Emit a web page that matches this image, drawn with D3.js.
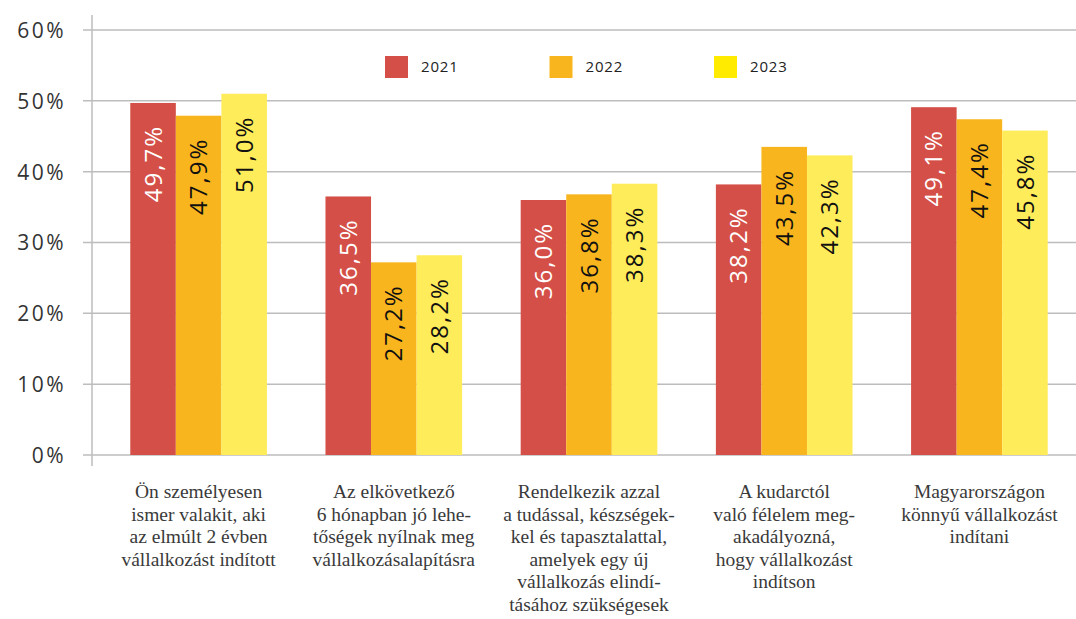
<!DOCTYPE html>
<meta charset="utf-8">
<style>
body { margin: 0; background: #fff; }
.grid line { stroke: #bdbdbd; stroke-width: 1.5px; }
.yaxis text { font-family: "Open Sans", sans-serif; font-size: 21px; fill: #333; letter-spacing: 2.5px; }
.val { font-family: "Open Sans", sans-serif; font-size: 24px; letter-spacing: 2px; }
.cat { font-family: "Liberation Serif", serif; font-size: 19.5px; fill: #3a3a3a; }
.legend text { font-family: "Open Sans", sans-serif; font-size: 15px; fill: #222; letter-spacing: 0.8px; }
</style>
<svg width="1076" height="619"></svg>
<script src="https://d3js.org/d3.v7.min.js"></script>
<script>

  var categories = [
    ["Ön személyesen", "ismer valakit, aki", "az elmúlt 2 évben", "vállalkozást indított"],
    ["Az elkövetkező", "6 hónapban jó lehe-", "tőségek nyílnak meg", "vállalkozásalapításra"],
    ["Rendelkezik azzal", "a tudással, készségek-", "kel és tapasztalattal,", "amelyek egy új", "vállalkozás elindí-", "tásához szükségesek"],
    ["A kudarctól", "való félelem meg-", "akadályozná,", "hogy vállalkozást", "indítson"],
    ["Magyarországon", "könnyű vállalkozást", "indítani"]
  ];
  var years = ["2021", "2022", "2023"];
  var values2021 = [49.7, 36.5, 36.0, 38.2, 49.1];
  var values2022 = [47.9, 27.2, 36.8, 43.5, 47.4];
  var values2023 = [51.0, 28.2, 38.3, 42.3, 45.8];
  var yTicks = [0, 10, 20, 30, 40, 50, 60];

  var series = [values2021, values2022, values2023];
  var barColors = ["#d44f47", "#f9b51e", "#ffec5a"];
  var legendColors = ["#d44f47", "#f9b51e", "#ffeb00"];
  var textColors = ["#fff", "#111", "#111"];

  var svg = d3.select("svg");

  var x = d3.scaleBand()
      .domain(d3.range(categories.length))
      .range([101, 1077])
      .paddingInner(0.3)
      .paddingOuter(0.15);
  var xi = d3.scaleBand()
      .domain(d3.range(years.length))
      .range([0, x.bandwidth()]);
  var y = d3.scaleLinear().domain([0, 60]).range([455, 30]);

  // gridlines
  svg.append("g")
      .attr("class", "grid")
      .selectAll("line")
      .data(yTicks)
      .enter().append("line")
        .attr("x1", 83).attr("x2", 1076)
        .attr("y1", function(d) { return y(d); })
        .attr("y2", function(d) { return y(d); });

  svg.append("line")
      .attr("x1", 92).attr("x2", 92)
      .attr("y1", 15).attr("y2", 466)
      .attr("stroke", "#bdbdbd").attr("stroke-width", 1.5);

  var yAxis = svg.append("g")
      .attr("class", "yaxis")
      .attr("transform", "translate(66,0)")
      .call(d3.axisLeft(y).tickValues(yTicks).tickSize(0).tickPadding(0)
        .tickFormat(function(d) { return d + "%"; }));
  yAxis.select(".domain").remove();
  yAxis.selectAll("text").attr("dy", "0.35em");

  // bars
  var fmt = d3.format(".1f");
  series.forEach(function(vals, s) {
    var g = svg.append("g");
    g.selectAll("rect")
      .data(vals)
      .enter().append("rect")
        .attr("x", function(d, i) { return x(i) + xi(s); })
        .attr("width", xi.bandwidth())
        .attr("y", function(d) { return y(d); })
        .attr("height", function(d) { return y(0) - y(d); })
        .attr("fill", barColors[s]);
    g.selectAll("text")
      .data(vals)
      .enter().append("text")
        .attr("class", "val")
        .attr("fill", textColors[s])
        .attr("text-anchor", "end")
        .attr("dy", "0.36em")
        .attr("transform", function(d, i) {
          var cx = x(i) + xi(s) + xi.bandwidth() / 2;
          return "translate(" + cx + "," + (y(d) + 22) + ") rotate(-90)";
        })
        .text(function(d) { return fmt(d).replace(".", ",") + "%"; });
  });

  // category labels
  svg.append("g")
      .selectAll("text")
      .data(categories)
      .enter().append("text")
        .attr("class", "cat")
        .attr("text-anchor", "middle")
        .attr("x", function(d, i) { return x(i) + x.bandwidth() / 2; })
        .attr("y", 498)
        .selectAll("tspan")
        .data(function(d) { return d; })
        .enter().append("tspan")
          .attr("x", function() { return d3.select(this.parentNode).attr("x"); })
          .attr("dy", function(d, j) { return j === 0 ? 0 : 22.5; })
          .text(function(d) { return d; });

  // legend
  var legend = svg.append("g").attr("class", "legend")
      .selectAll("g")
      .data(years)
      .enter().append("g")
        .attr("transform", function(d, i) { return "translate(" + (385 + i * 164.5) + ",56)"; });
  legend.append("rect")
      .attr("width", 23).attr("height", 22)
      .attr("fill", function(d, i) { return legendColors[i]; });
  legend.append("text")
      .attr("x", 36).attr("y", 11).attr("dy", "0.35em")
      .text(function(d) { return d; });

</script>
